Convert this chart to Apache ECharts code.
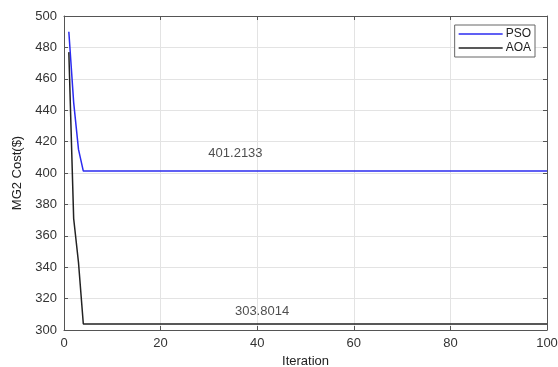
<!DOCTYPE html>
<html><head><meta charset="utf-8">
<script src="https://cdn.jsdelivr.net/npm/echarts@6/dist/echarts.min.js"></script>
<style>html,body{margin:0;padding:0;background:#fff}#c{width:558px;height:367px}</style>
</head><body><div id="c"></div>
<script>
// Iteration / cost values (constant after convergence until iteration 100)
const psoIter = [1, 2, 3, 4, 100];
const psoCost = [490, 445, 415, 401.2133, 401.2133];
const aoaIter = [1, 2, 3, 4, 100];
const aoaCost = [477, 371, 343, 303.8014, 303.8014];
const annotText = ['401.2133', '303.8014'];
const annotIter = [35.5, 41];
const annotCost = [412.5, 312];
const xTicks = [0, 20, 40, 60, 80, 100];
const yTicks = [300, 320, 340, 360, 380, 400, 420, 440, 460, 480, 500];

const zip = (a, b) => a.map((v, i) => [v, b[i]]);
const font = 'Liberation Sans, Arial, sans-serif';
const chart = echarts.init(document.getElementById('c'));
const axisLineStyle = { color: '#555', width: 1 };
chart.setOption({
  animation: false,
  grid: { left: 64, right: 11, top: 16, bottom: 37, containLabel: false, outerBoundsMode: 'none' },
  xAxis: [{
    type: 'value', min: xTicks[0], max: xTicks[xTicks.length - 1], interval: 20,
    name: 'Iteration', nameLocation: 'middle', nameGap: 22,
    nameTextStyle: { fontFamily: font, fontSize: 13, color: '#222' },
    axisLine: { onZero: false, lineStyle: axisLineStyle },
    axisTick: { inside: true, length: 4, lineStyle: axisLineStyle },
    axisLabel: { fontFamily: font, fontSize: 13, color: '#333', margin: 7 },
    splitLine: { show: true, lineStyle: { color: '#e3e3e3', width: 1 } }
  }, {
    type: 'value', position: 'top', min: 0, max: 100, interval: 20,
    axisLine: { show: true, onZero: false, lineStyle: axisLineStyle },
    axisTick: { show: true, inside: true, length: 4, lineStyle: axisLineStyle },
    axisLabel: { show: false }, splitLine: { show: false }
  }],
  yAxis: [{
    type: 'value', min: 300, max: 500, interval: 20,
    name: 'MG2 Cost($)', nameLocation: 'middle', nameGap: 40,
    nameTextStyle: { fontFamily: font, fontSize: 13, color: '#222' },
    axisLine: { show: true, onZero: false, lineStyle: axisLineStyle },
    axisTick: { show: true, inside: true, length: 4, lineStyle: axisLineStyle },
    axisLabel: { fontFamily: font, fontSize: 13, color: '#333', margin: 7 },
    splitLine: { show: true, lineStyle: { color: '#e3e3e3', width: 1 } }
  }, {
    type: 'value', position: 'right', min: 300, max: 500, interval: 20,
    axisLine: { show: true, onZero: false, lineStyle: axisLineStyle },
    axisTick: { show: true, inside: true, length: 4, lineStyle: axisLineStyle },
    axisLabel: { show: false }, splitLine: { show: false }
  }],
  legend: {
    right: 23, top: 25, orient: 'vertical', itemGap: 2,
    itemWidth: 44, itemHeight: 11, padding: [3, 4, 3, 4],
    backgroundColor: '#fff', borderColor: '#666', borderWidth: 1, borderRadius: 0,
    icon: 'path://M0,0 L44,0 L44,1.5 L0,1.5 Z',
    textStyle: { fontFamily: font, fontSize: 12, color: '#222', padding: [0, 0, 0, -2] },
    data: ['PSO', 'AOA']
  },
  series: [
    { name: 'PSO', type: 'line', data: zip(psoIter, psoCost), symbol: 'none',
      lineStyle: { color: '#2b2bf0', width: 1.5 }, itemStyle: { color: '#2b2bf0' } },
    { name: 'AOA', type: 'line', data: zip(aoaIter, aoaCost), symbol: 'none',
      lineStyle: { color: '#222', width: 1.5 }, itemStyle: { color: '#222' } },
    { name: 'annot', type: 'scatter', data: zip(annotIter, annotCost), symbolSize: 0,
      silent: true,
      label: { show: true, position: 'inside', fontFamily: font, fontSize: 13, color: '#222',
        formatter: p => annotText[p.dataIndex] } }
  ]
});
</script></body></html>
